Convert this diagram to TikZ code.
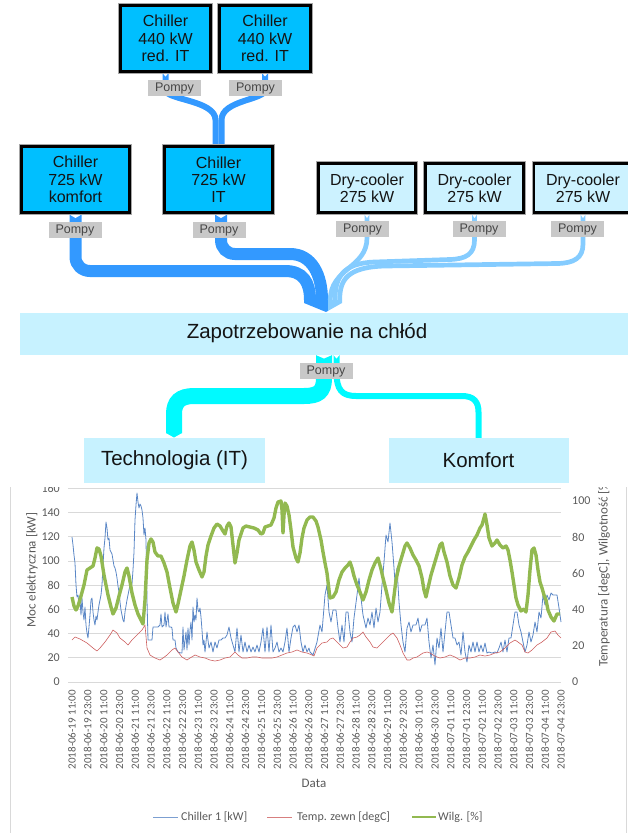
\documentclass[tikz,border=0pt]{standalone}
\usepackage{fontspec}
\setmainfont{Liberation Sans}
\newfontfamily\chartfont{Carlito}
\usetikzlibrary{calc}
\pgfdeclarelayer{flows}
\pgfsetlayers{flows,main}

\definecolor{chillerfill}{RGB}{0,191,255}
\definecolor{coolerfill}{RGB}{204,242,255}
\definecolor{demandfill}{RGB}{199,242,255}
\definecolor{flowdark}{RGB}{51,153,255}
\definecolor{flowlight}{RGB}{133,204,255}
\definecolor{flowcyan}{RGB}{0,250,255}
\definecolor{pumpfill}{RGB}{200,200,200}
\definecolor{pumptext}{RGB}{70,70,70}
\definecolor{gridgray}{RGB}{217,217,217}
\definecolor{axistext}{RGB}{89,89,89}
\definecolor{serieschiller}{RGB}{91,135,198}
\definecolor{seriestemp}{RGB}{205,95,95}
\definecolor{serieshum}{RGB}{146,185,80}

% white notch at the start of a flow band: x, y, band width
\newcommand\flownotch[3]{\fill[white] ({#1-#3/2},#2) -- ({#1+#3/2},#2) -- (#1,{#2+3.5}) -- cycle;}

\begin{document}
\begin{tikzpicture}[x=1pt, y=-1pt,
  box/.style={inner sep=0pt, align=center, text=black!92},
  chiller/.style={box, fill=chillerfill, draw=black, line width=2.8pt,
    preaction={draw=black!35, line width=4.6pt},
    font=\fontsize{16}{17.3}\selectfont},
  cooler/.style={chiller, fill=coolerfill},
  demand/.style={box, fill=demandfill, font=\fontsize{20.5}{24}\selectfont},
  pump/.style={inner sep=0pt, fill=pumpfill, text=pumptext,
    minimum width=53pt, minimum height=16pt, font=\fontsize{12.5}{13}\selectfont},
  ticklab/.style={inner sep=0pt, text=axistext, font=\chartfont\fontsize{12}{13}\selectfont},
  datelab/.style={inner sep=0pt, rotate=90, anchor=east, text=axistext,
    font=\chartfont\fontsize{11}{12}\selectfont},
  titlelab/.style={inner sep=0pt, text=axistext, font=\chartfont\fontsize{13}{14}\selectfont},
  legtext/.style={inner sep=0pt, anchor=west, text=axistext, font=\chartfont\fontsize{12}{13}\selectfont},
]
\useasboundingbox (0,0) rectangle (628,833);

% ---------- units of the cooling plant ----------
\node[chiller, minimum width=90pt, minimum height=66pt] (c440a) at (165.5,38.5) {Chiller\\440 kW\\red. IT};
\node[chiller, minimum width=91pt, minimum height=66pt] (c440b) at (265,38.5) {Chiller\\440 kW\\red. IT};
\node[chiller, minimum width=108pt, minimum height=66pt] (c725k) at (75.5,179.5) {Chiller\\725 kW\\komfort};
\node[chiller, minimum width=108pt, minimum height=66pt] (c725it) at (218.5,179.5) {Chiller\\725 kW\\IT};
\node[cooler, minimum width=97pt, minimum height=49pt] (dc1) at (367,188) {Dry-cooler\\275 kW};
\node[cooler, minimum width=98pt, minimum height=49pt] (dc2) at (474.5,188) {Dry-cooler\\275 kW};
\node[cooler, minimum width=98pt, minimum height=49pt] (dc3) at (583,188) {Dry-cooler\\275 kW};

\node[demand, minimum width=610pt, minimum height=42pt] (zap) at (325,334) {};
\node[demand, fill=none] (zaptext) at (307,333) {Zapotrzebowanie na chłód};
\node[demand, minimum width=181pt, minimum height=45pt] (tech) at (174.5,460.5) {Technologia (IT)};
\node[demand, minimum width=180pt, minimum height=45pt] (komf) at (478.5,460.5) {Komfort};

% pumps on the flows
\node[pump] (p1) at (174.5,88) {Pompy};
\node[pump] (p2) at (255.5,88) {Pompy};
\node[pump] (p3) at (75,230) {Pompy};
\node[pump] (p4) at (219,230) {Pompy};
\node[pump] (p5) at (362.5,229) {Pompy};
\node[pump] (p6) at (479,229) {Pompy};
\node[pump] (p7) at (577.5,229) {Pompy};
\node[pump] (p8) at (326,371) {Pompy};

% ends of the bands at the demand arrow
\coordinate (inK) at (310,300);
\coordinate (inIT) at (322,300);
\coordinate (inD1) at (330.3,300);
\coordinate (inD2) at (335,300);
\coordinate (inD3) at (339.7,300);

\begin{pgfonlayer}{flows}
% redundant IT chillers into the IT chiller
\draw[flowdark, line width=6pt] (c440a.south) -- (165.5,90)
  .. controls (165.5,100) and (215.5,100) .. (215.5,120) -- ([xshift=-3pt]c725it.north);
\draw[flowdark, line width=6pt] (c440b.south) -- (265,90)
  .. controls (265,100) and (221.5,100) .. (221.5,120) -- ([xshift=3pt]c725it.north);
% main chillers
\draw[flowdark, line width=12pt] (c725k.south) -- (75.5,257)
  .. controls (75.5,265) and (82,271) .. (90,271) -- (285,271)
  .. controls (303,271) and (310,282) .. (inK);
\draw[flowdark, line width=12pt] ([xshift=2.5pt]c725it.south) -- (221,240)
  .. controls (221,248) and (227,254) .. (235,254) -- (290,254)
  .. controls (312,254) and (322,275) .. (inIT);
% dry-coolers
\draw[flowlight, line width=4.7pt] (dc1.south) -- (367,238)
  .. controls (367,268) and (330.3,268) .. (inD1);
\draw[flowlight, line width=4.7pt] (dc2.south) -- (474.5,240)
  .. controls (474.5,254) and (466,259) .. (450,259.5) -- (375,262)
  .. controls (342,263) and (335,278) .. (inD2);
\draw[flowlight, line width=4.7pt] (dc3.south) -- (583,244)
  .. controls (583,258) and (574,263) .. (558,263.5) -- (385,266)
  .. controls (347,267) and (339.7,280) .. (inD3);
% arrow head into the demand
\fill[flowdark] (304,300) -- (328,300) -- (328,310.9) -- (326,312) -- (304,303) -- cycle;
\fill[flowlight] (328,300) -- (342,300) -- (342,303) -- (328,310.9) -- cycle;
% distribution of the cooling demand
\draw[flowcyan, line width=16pt] ([xshift=-1pt]zap.south) -- (324,378)
  .. controls (324,392) and (318,396) .. (304,396) -- (194,396)
  .. controls (180,396) and (174,402) .. (174,414) -- (174,433);
\fill[flowcyan] (166,433) -- (182,433) -- (174,437.5) -- cycle;
\draw[flowcyan, line width=6pt] ([xshift=11.5pt]zap.south) -- (336.5,372)
  .. controls (336.5,390) and (342,396) .. (356,396) -- (462,396)
  .. controls (474,396) and (478.5,402) .. (478.5,412) -- (komf.north);
% notches where the bands leave a unit
\flownotch{165.5}{73}{6}
\flownotch{265}{73}{6}
\flownotch{75.5}{214.5}{12}
\flownotch{221}{214.5}{12}
\flownotch{367}{214.5}{4.7}
\flownotch{474.5}{214.5}{4.7}
\flownotch{583}{214.5}{4.7}
\flownotch{324}{355}{16}
\flownotch{336.5}{355}{6}
\end{pgfonlayer}

% ---------- chart ----------
\begin{scope}
\clip (0,487) rectangle (628,833);
\draw[gridgray, line width=0.8pt] (10,487) -- (10,833);
\draw[gridgray, line width=0.8pt] (626,487) -- (626,833);
\foreach \v in {0,20,...,160} {
  \draw[gridgray, line width=0.8pt] (68,{682-1.21*\v}) -- (561,{682-1.21*\v});
  \node[ticklab, anchor=east] (yl\v) at (60,{682-1.21*\v}) {\v};
}
\foreach \v in {0,20,...,100} {
  \node[ticklab, anchor=west] (yr\v) at (572,{682-1.81*\v}) {\v};
}
\node[titlelab, rotate=90] (ytitle) at (32,570) {Moc elektryczna [kW]};
\node[titlelab, rotate=90, anchor=west] (ytitle2) at (604,667) {Temperatura [degC], Wilgotność [\%]};

\foreach \dd [count=\i from 0] in {06-19,06-20,06-21,06-22,06-23,06-24,06-25,06-26,06-27,06-28,06-29,06-30,07-01,07-02,07-03,07-04} {
  \node[datelab] (da\i) at ({72+31.548*\i},690) {2018-\dd{} 11:00};
  \node[datelab] (db\i) at ({72+31.548*\i+15.774},690) {2018-\dd{} 23:00};
}
\node[titlelab] (xtitle) at (314,783) {Data};

% Chiller 1 [kW]
\draw[serieschiller, line width=0.8pt, line join=round] plot coordinates {
(72,537) (73,545) (74,555) (75,563) (76,585) (77,597) (78,595) (79,605) (80,600) (81,615) (82,598) (83,612) (84,620) (85,607) (86,625) (87,633) (88,638) (89,627) (90,615) (91,600) (92,598) (93,612) (94,620) (95,625) (96,616) (97,620) (98,612) (99,605) (100,600) (101,595) (102,585) (103,565) (104,548) (105,538) (106,522) (107,528) (108,540) (109,538) (110,550) (111,552) (112,554) (113,560) (114,566) (115,568) (116,572) (117,578) (118,586) (119,592) (120,602) (121,610) (122,615) (123,620) (124,622) (125,612) (126,606) (127,600) (128,595) (129,590) (130,585) (131,586) (132,584) (133,570) (134,552) (135,520) (136,505) (137,493) (138,502) (139,508) (140,504) (141,506) (142,510) (143,518) (144,535) (145,528) (146,540) (147,600) (148,640) (150,640) (152,640) (153,627) (156,627) (158,627) (160,625) (161,614) (162,627) (164,625) (165,612) (166,627) (168,614) (169,627) (171,627) (172,628) (173,640) (175,640) (176,648) (178,652) (181,653) (182,653) (183,627) (184,650) (186,632) (187,650) (188,628) (189,645) (190,630) (191,622) (192,640) (193,607) (194,622) (195,615) (196,620) (197,598) (198,610) (199,612) (200,608) (201,617) (202,630) (203,645) (204,640) (205,652)
(207,632) (209,648) (211,642) (213,652) (215,642) (217,648) (219,640) (221,640) (223,638) (225,638) (227,635) (229,627) (231,638) (233,645) (235,652) (237,628) (239,652) (241,635) (243,652) (245,642) (247,652) (249,645) (251,652) (253,647) (255,652) (257,645) (259,652) (261,642) (263,628) (265,652) (267,627) (269,652) (271,625) (273,652) (275,648) (277,642) (279,652) (281,648) (283,652) (285,642) (287,628) (289,652) (291,638) (293,627) (295,625) (297,632) (299,625) (301,642) (303,652) (305,645) (307,652) (309,648) (310,652) (313,655) (317,642) (320,625) (322,632) (325,595) (327,585) (329,612) (331,622) (333,610) (336,610) (338,628) (340,642) (342,625) (344,642) (346,612) (348,612) (350,632) (352,642) (354,618) (357,595) (359,578) (361,598) (363,615) (366,628) (368,618) (370,625) (372,612) (374,628) (376,608) (378,622) (380,612) (382,585) (384,562) (386,535) (388,542) (390,523) (392,542) (394,568) (395,582) (397,568) (399,602) (401,625) (403,642) (405,652) (407,628) (409,622) (411,632) (413,625) (416,625) (418,618) (420,632) (422,625) (425,625) (427,618) (429,642) (431,658) (433,645) (435,665) (437,638) (439,648) (441,628) (443,652) (445,632) (447,612) (449,612) (451,625) (453,638) (455,638) (457,645) (459,642) (461,655) (463,632) (465,652) (467,662) (469,645) (471,652) (473,642) (475,652) (477,642) (479,652) (481,645) (483,652) (485,643) (487,653) (489,652) (492,653) (495,652) (497,653) (499,648) (501,642) (503,652) (505,640) (507,652) (509,638) (511,638) (513,625) (515,612) (517,612) (519,625) (521,632) (523,642) (525,652) (527,645) (529,632) (531,642) (533,635) (535,622) (537,632) (539,612) (541,618) (543,595) (545,605) (547,595) (549,600) (551,593) (553,595) (555,595) (557,595) (559,608) (561,622)
};
% Temp. zewn [degC]
\draw[seriestemp, line width=0.6pt, line join=round] plot coordinates {
(72,640) (75,637) (80,639) (87,643) (93,648) (97,651) (100,648) (105,642) (110,635) (113,630) (117,633) (120,638) (125,642) (128,645) (132,640) (137,635) (142,630) (145,625) (147,648) (150,655) (155,658) (160,660) (163,658) (167,655) (172,650) (175,648) (178,652) (182,657) (187,660) (190,658) (195,655) (200,657) (205,658) (210,660) (215,661) (220,660) (225,658) (230,657) (235,652) (238,655) (242,658) (247,658) (252,657) (257,657) (262,658) (267,658) (272,658) (277,657) (282,655) (287,653) (292,652) (297,650) (302,652) (307,653) (312,655) (314,656) (317,648) (322,643) (327,642) (330,639) (333,638) (337,642) (340,645) (343,648) (347,647) (350,642) (353,638) (357,637) (360,635) (363,632) (366,637) (370,642) (373,647) (377,648) (380,645) (385,640) (390,635) (393,633) (397,638) (400,645) (403,653) (407,660) (410,660) (413,658) (417,657) (420,655) (423,653) (427,652) (430,653) (433,655) (437,657) (440,658) (445,657) (450,655) (455,657) (460,660) (465,658) (470,658) (475,657) (480,655) (485,656) (490,655) (495,653) (500,652) (505,648) (510,643) (515,640) (518,642) (522,645) (525,652) (528,653) (532,650) (537,645) (542,642) (547,638) (551,632) (555,631) (558,635) (561,638)
};
% Wilg. [%]
\draw[serieshum, line width=3.4pt, line join=round] plot coordinates {
(72,597) (74,606) (76,610) (78,606) (81,596) (84,585) (87,570) (90,568) (93,566) (95,558) (97,548) (99,549) (101,556) (104,575) (108,595) (111,607) (113,614) (116,608) (119,596) (122,585) (125,572) (127,568) (129,576) (132,593) (135,605) (138,614) (141,620) (143,624) (145,600) (147,560) (149,543) (151,539) (153,542) (155,552) (158,556) (161,556) (164,563) (167,572) (170,588) (173,603) (176,612) (178,604) (181,590) (184,576) (187,560) (190,546) (192,542) (194,550) (196,562) (199,570) (202,577) (204,572) (206,556) (208,545) (211,536) (214,528) (217,524) (220,526) (223,531) (225,534) (227,526) (229,523) (231,527) (233,545) (235,563) (237,553) (239,540) (241,534) (243,528) (246,526) (250,527) (254,528) (258,530) (261,534) (263,533) (265,527) (268,526) (271,525) (274,518) (276,508) (278,502) (281,501) (282,510) (283,533) (284,515) (285,503) (287,506) (289,515) (291,530) (293,547) (296,558) (298,562) (300,553) (302,538) (304,528) (307,520) (310,517) (313,517) (316,521) (318,527) (321,540) (323,552) (325,563) (327,573) (329,590) (330,598) (333,597) (336,592) (339,580) (342,572) (345,568) (348,565) (350,562) (352,568) (354,576) (357,585) (360,592) (363,600) (366,592) (369,580) (372,570) (375,563) (378,558) (381,569) (383,578) (386,590) (389,603) (392,612) (394,596) (396,580) (399,566) (402,556) (405,546) (407,543) (410,548) (413,555) (416,560) (419,566) (422,578) (424,590) (426,597) (428,588) (431,575) (434,565) (437,555) (440,545) (442,543) (444,552) (447,562) (450,576) (453,585) (456,588) (459,578) (462,565) (465,557) (468,552) (471,546) (474,540) (477,535) (480,528) (482,525) (484,518) (485,514) (487,525) (489,538) (492,546) (495,543) (497,540) (500,545) (503,548) (506,546) (508,550) (510,560) (512,572) (514,585) (516,598) (518,605) (521,611) (524,609) (526,612) (528,595) (530,570) (532,550) (534,548) (536,555) (538,570) (540,582) (542,588) (544,595) (546,600) (548,610) (551,617) (554,621) (557,614) (560,614)
};

% legend
\draw[serieschiller!80, line width=1pt] (153,817) -- (178,817);
\node[legtext] (leg1) at (181,817) {Chiller 1 [kW]};
\draw[seriestemp!80, line width=1pt] (267,817) -- (292,817);
\node[legtext] (leg2) at (297,817) {Temp. zewn [degC]};
\draw[serieshum, line width=2.6pt] (412,817) -- (436,817);
\node[legtext] (leg3) at (438,817) {Wilg. [\%]};
\end{scope}
\end{tikzpicture}
\end{document}
